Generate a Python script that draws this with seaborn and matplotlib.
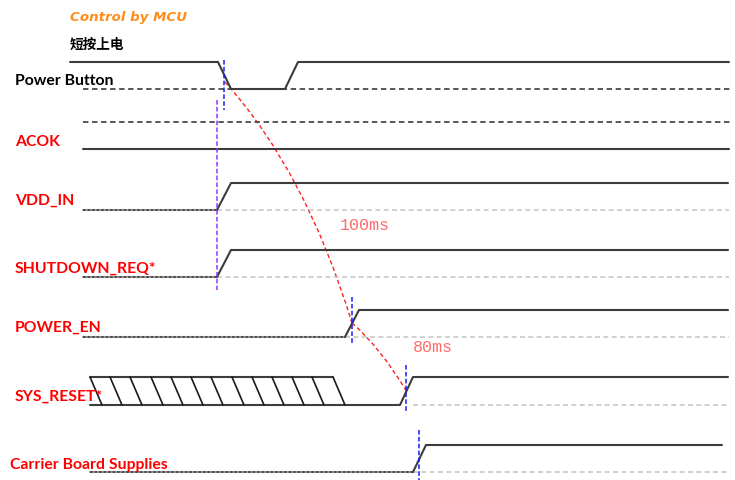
import numpy as np
import pandas as pd
import seaborn as sns
from matplotlib import pyplot as plt
from matplotlib.path import Path
from matplotlib.patches import PathPatch

# signal rows (chart units ~ pixels, y grows downwards)
signal_names = ["Power Button", "ACOK", "VDD_IN", "SHUTDOWN_REQ*", "POWER_EN",
                "SYS_RESET*", "Carrier Board Supplies"]
label_colors = ["black", "red", "red", "red", "red", "red", "red"]
label_x = [15, 15, 15, 15, 15, 15, 10]
label_y = [81, 142, 201, 269, 328, 397, 465]
high_y = [62, 122, 183, 250, 310, 377, 445]
low_y = [89, 149, 210, 277, 337, 405, 472]

# waveforms: time points and logic level (1 = high, 0 = low)
pb_t = [70, 218, 231, 285, 298, 729]
pb_lvl = [1, 1, 0, 0, 1, 1]
vdd_t = [217, 231, 728]
vdd_lvl = [0, 1, 1]
shdn_t = [217, 231, 728]
shdn_lvl = [0, 1, 1]
pwren_t = [345, 359, 728]
pwren_lvl = [0, 1, 1]
rst_t = [90, 400, 413, 728]
rst_lvl = [0, 0, 1, 1]
cbs_t = [413, 426, 722]
cbs_lvl = [0, 1, 1]

# dotted low segments before the edge
pre_low_start = {2: 83, 3: 83, 4: 83, 6: 90}
pre_low_end = {2: 217, 3: 217, 4: 345, 6: 413}

# SYS_RESET* undefined (hatched) region
hatch_top = [90, 110, 130, 151, 171, 191, 211, 232, 252, 272, 292, 312, 333]
hatch_slant = 12

# edge markers
blue_marks_x = [224, 352, 406, 419]
blue_marks_y0 = [60, 297, 365, 430]
blue_marks_y1 = [110, 345, 412, 480]
purple_x = 217
purple_y = [100, 290]

# delay annotations
delay_labels = ["100ms", "80ms"]
delay_pos = [(340, 226), (413, 347)]

sns.set_theme(style="white")
plt.rcParams['font.family'] = ['Lato', 'DejaVu Sans']

fig = plt.figure(figsize=(7.35, 4.8), dpi=100)
ax = fig.add_axes([0, 0, 1, 1])
ax.set_xlim(0, 735)
ax.set_ylim(480, 0)
ax.axis('off')

wave_col = '#3c3c3c'
dash_dark = '#4a4a4a'
dash_light = '#c8c8c8'


def level_y(i, lvl):
    return [high_y[i] if v else low_y[i] for v in lvl]


# dashed reference lines
ax.plot([83, 730], [low_y[0], low_y[0]], color=dash_dark, lw=1.3, ls=(0, (3, 2)))
ax.plot([83, 730], [high_y[1], high_y[1]], color=dash_dark, lw=1.3, ls=(0, (3, 2)))
ax.plot([83, 729], [low_y[1], low_y[1]], color=wave_col, lw=1.5)

light_base = {2: 217, 3: 217, 4: 345, 5: 413, 6: 413}
for i, x0 in light_base.items():
    ax.plot([x0, 729], [low_y[i], low_y[i]], color=dash_light, lw=1.2, ls=(0, (3, 2)))

for i in pre_low_start:
    ax.plot([pre_low_start[i], pre_low_end[i]], [low_y[i], low_y[i]],
            color='#9a9a9a', lw=1.5)
    ax.plot([pre_low_start[i], pre_low_end[i]], [low_y[i], low_y[i]],
            color=dash_dark, lw=1.3, ls=(0, (1.5, 1)))

waves = [(0, pb_t, pb_lvl), (2, vdd_t, vdd_lvl), (3, shdn_t, shdn_lvl),
         (4, pwren_t, pwren_lvl), (5, rst_t, rst_lvl), (6, cbs_t, cbs_lvl)]
for i, t, lvl in waves:
    df = pd.DataFrame({'t': t, 'y': level_y(i, lvl)})
    sns.lineplot(data=df, x='t', y='y', sort=False, estimator=None, ax=ax,
                 color=wave_col, lw=1.5)

# hatched region of SYS_RESET*
ax.plot([hatch_top[0], hatch_top[-1]], [high_y[5], high_y[5]], color=wave_col, lw=1.5)
for hx in hatch_top:
    ax.plot([hx, hx + hatch_slant], [high_y[5], low_y[5]], color='#1a1a1a', lw=1.2)

# edge markers
for x, y0, y1 in zip(blue_marks_x, blue_marks_y0, blue_marks_y1):
    ax.plot([x, x], [y0, y1], color='#1a1aff', lw=1.1, ls=(0, (3, 1.5)))
ax.plot([purple_x, purple_x], purple_y, color='#9b30ff', lw=1.1, ls=(0, (3, 1.5)))

# red delay arcs
arcs = [[(225, 82), (306, 172), (352, 323)],
        [(352, 323), (380, 347), (407, 392)]]
for pts in arcs:
    p = Path(pts, [Path.MOVETO, Path.CURVE3, Path.CURVE3])
    ax.add_patch(PathPatch(p, fill=False, edgecolor='#ff2020', lw=1.0,
                           ls=(0, (3, 2))))

for txt, (x, y) in zip(delay_labels, delay_pos):
    ax.text(x, y, txt, family='Liberation Mono', fontsize=12, color='#ff6a6a',
            ha='left', va='center')

# labels
for name, c, x, y in zip(signal_names, label_colors, label_x, label_y):
    ax.text(x, y, name, color=c, fontsize=11.3, fontweight='bold',
            ha='left', va='center')

ax.text(70, 17, "Control by MCU", color='#ff8c1a', fontsize=9.6,
        fontweight='bold', style='italic', family=['DejaVu Sans'],
        ha='left', va='center')
ax.text(70, 45, "短按上电", color='black', fontsize=9.8, fontweight='bold',
        family=['Noto Sans CJK SC', 'DejaVu Sans'], ha='left', va='center')

fig.savefig('out.png', dpi=100)
